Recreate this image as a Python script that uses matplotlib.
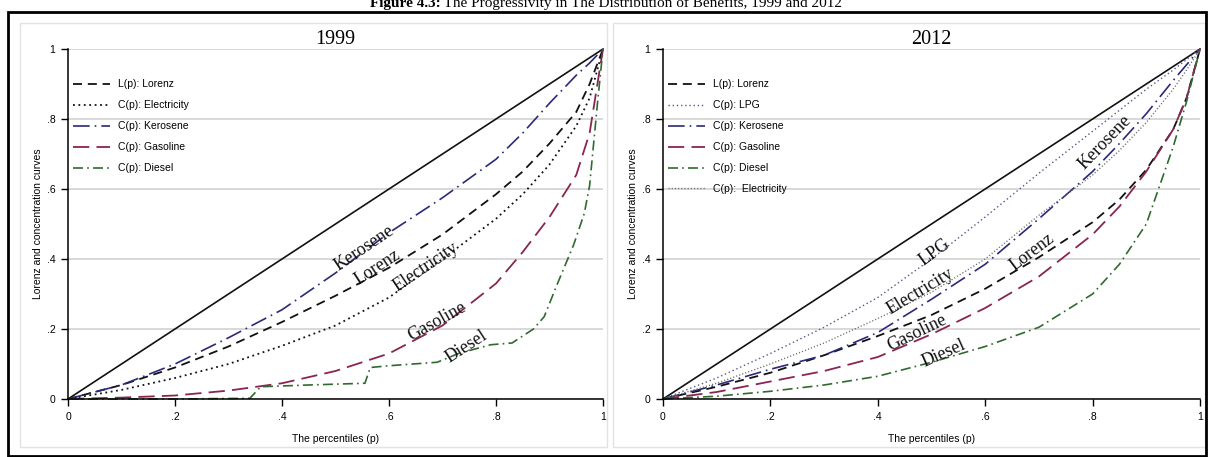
import matplotlib
matplotlib.use("Agg")
import matplotlib.pyplot as plt
from matplotlib.patches import Rectangle

# ---------------- data ----------------
p_grid = [0, .1, .2, .3, .4, .5, .6, .7, .8, .85, .9, .95, .975, 1]

lorenz_99 = [0, .04, .09, .15, .22, .295, .375, .47, .585, .65, .73, .82, .90, 1]
elec_99 = [0, .026, .06, .10, .152, .21, .29, .40, .515, .585, .67, .78, .86, 1]
kero_99 = [0, .04, .10, .175, .255, .36, .475, .575, .685, .76, .845, .925, .96, 1]
gaso_99 = [0, .004, .01, .024, .045, .08, .13, .21, .33, .42, .52, .64, .76, 1]
diesel_p_99 = [0, .2, .34, .36, .45, .555, .565, .6, .69, .73, .79, .83, .87, .89,
               .915, .945, .965, .975, .99, 1]
diesel_99 = [0, 0, .002, .035, .04, .045, .09, .095, .105, .13, .155, .16, .2, .235,
             .33, .44, .53, .61, .85, 1]

lorenz_12 = [0, .035, .075, .125, .18, .24, .315, .405, .505, .57, .655, .77, .86, 1]
lpg_12 = [0, .06, .13, .205, .29, .40, .52, .645, .765, .825, .885, .94, .97, 1]
kero_12 = [0, .04, .085, .125, .19, .285, .385, .515, .65, .73, .815, .91, .955, 1]
gaso_12 = [0, .02, .05, .08, .12, .185, .26, .35, .47, .55, .65, .77, .86, 1]
diesel_12 = [0, .008, .022, .04, .065, .105, .15, .205, .30, .385, .50, .72, .85, 1]
elec_12 = [0, .045, .10, .16, .23, .305, .40, .525, .64, .71, .79, .885, .94, 1]

ticks = [0, .2, .4, .6, .8, 1]
tick_labels = ["0", ".2", ".4", ".6", ".8", "1"]

legend_99 = ["L(p): Lorenz", "C(p): Electricity", "C(p): Kerosene",
             "C(p): Gasoline", "C(p): Diesel"]
legend_12 = ["L(p): Lorenz", "C(p): LPG", "C(p): Kerosene",
             "C(p): Gasoline", "C(p): Diesel", "C(p):  Electricity"]

# ---------------- styles ----------------
W, H = 1212, 457
SANS = ["Liberation Sans", "DejaVu Sans"]
SERIF = ["Liberation Serif", "DejaVu Serif"]
C_BLACK = "#111111"
C_NAVY = "#2a2a78"
C_GASO = "#8a2452"
C_DIESEL = "#2f6a2f"
C_LPG = "#55558f"
C_ELEC12 = "#6a6a6a"

st_lorenz = dict(color=C_BLACK, lw=1.3, dashes=(5, 3.2))
st_elec99 = dict(color=C_BLACK, lw=1.3, dashes=(1, 2))
st_kero = dict(color=C_NAVY, lw=1.2, dashes=(10, 3, 1, 3))
st_gaso = dict(color=C_GASO, lw=1.3, dashes=(9, 4))
st_diesel = dict(color=C_DIESEL, lw=1.2, dashes=(6, 2.5, 1, 2.5))
st_lpg = dict(color=C_LPG, lw=1.0, dashes=(1, 2))
st_elec12 = dict(color=C_ELEC12, lw=1.0, dashes=(0.8, 1.5))

fig = plt.figure(figsize=(W / 100, H / 100), dpi=100)
fig.patch.set_facecolor("white")


def px_rect(x0, y0, x1, y1, **kw):
    r = Rectangle((x0 / W, 1 - y1 / H), (x1 - x0) / W, (y1 - y0) / H,
                  transform=fig.transFigure, fill=False, **kw)
    fig.add_artist(r)


# panel frames and outer border
px_rect(20, 23, 607, 447, lw=1.0, edgecolor="#e2e2e2")
px_rect(613, 23, 1205, 447, lw=1.0, edgecolor="#e2e2e2")
px_rect(8, 12, 1206, 456, lw=2.0, edgecolor="black")

# figure caption (cut by the top edge), centred as a whole
renderer = fig.canvas.get_renderer()
t_bold = fig.text(0, 1 - 7 / H, "Figure 4.3:", ha="left", va="baseline",
                  fontsize=11, fontweight="bold", family=SERIF)
t_rest = fig.text(0, 1 - 7 / H,
                  " The Progressivity in The Distribution of Benefits, 1999 and 2012",
                  ha="left", va="baseline", fontsize=11, family=SERIF)
wb = t_bold.get_window_extent(renderer).width
wr = t_rest.get_window_extent(renderer).width
x_start = 606 - (wb + wr) / 2
t_bold.set_x(x_start / W)
t_rest.set_x((x_start + wb) / W)


def setup_axes(ax, title):
    ax.set_xlim(0, 1)
    ax.set_ylim(0, 1)
    for s in ["top", "right"]:
        ax.spines[s].set_visible(False)
    for s in ["left", "bottom"]:
        ax.spines[s].set_linewidth(1.1)
    ax.set_xticks(ticks)
    ax.set_xticklabels(tick_labels)
    ax.set_yticks(ticks)
    ax.set_yticklabels(tick_labels)
    ax.tick_params(direction="out", length=5, width=1.0, labelsize=7.5, pad=4)
    for lab in ax.get_xticklabels() + ax.get_yticklabels():
        lab.set_family(SANS)
    ax.yaxis.grid(True, color="#d6d6d6", lw=1.3)
    ax.set_axisbelow(True)
    ax.set_xlabel("The percentiles (p)", fontsize=7.5, family=SANS, labelpad=9)
    ax.set_ylabel("Lorenz and concentration curves", fontsize=7.5, family=SANS,
                  labelpad=3)
    ax.set_title(title, fontsize=14.5, family=SERIF, pad=3)
    ax.plot([0, 1], [0, 1], color=C_BLACK, lw=1.2, clip_on=False)


def add_legend(ax, handles, labels):
    ax.legend(handles, labels, loc="upper left", bbox_to_anchor=(0.0, 0.928),
              frameon=False, prop=dict(family=SANS, size=7.5),
              handlelength=3.55, labelspacing=1.05, handletextpad=0.75,
              borderaxespad=0.1)


def label(ax, text, x, y, rot):
    ax.text(x, y, text, rotation=rot, rotation_mode="anchor", ha="center",
            va="center", fontsize=13, family=SERIF, color="#111111")


ax1 = fig.add_axes([68 / W, 1 - 399 / H, 535 / W, 350 / H])
setup_axes(ax1, "1999")
h = []
h.append(ax1.plot(p_grid, lorenz_99, clip_on=False, **st_lorenz)[0])
h.append(ax1.plot(p_grid, elec_99, clip_on=False, **st_elec99)[0])
h.append(ax1.plot(p_grid, kero_99, clip_on=False, **st_kero)[0])
h.append(ax1.plot(p_grid, gaso_99, clip_on=False, **st_gaso)[0])
h.append(ax1.plot(diesel_p_99, diesel_99, clip_on=False, **st_diesel)[0])
add_legend(ax1, h, legend_99)
label(ax1, "Kerosene", 0.553, 0.431, 34)
label(ax1, "Lorenz", 0.578, 0.376, 33)
label(ax1, "Electricity", 0.669, 0.376, 34)
label(ax1, "Gasoline", 0.69, 0.22, 29)
label(ax1, "Diesel", 0.744, 0.149, 33)

ax2 = fig.add_axes([663 / W, 1 - 399 / H, 537 / W, 350 / H])
setup_axes(ax2, "2012")
h = []
h.append(ax2.plot(p_grid, lorenz_12, clip_on=False, **st_lorenz)[0])
h.append(ax2.plot(p_grid, lpg_12, clip_on=False, **st_lpg)[0])
h.append(ax2.plot(p_grid, kero_12, clip_on=False, **st_kero)[0])
h.append(ax2.plot(p_grid, gaso_12, clip_on=False, **st_gaso)[0])
h.append(ax2.plot(p_grid, diesel_12, clip_on=False, **st_diesel)[0])
h.append(ax2.plot(p_grid, elec_12, clip_on=False, **st_elec12)[0])
add_legend(ax2, h, legend_12)
label(ax2, "LPG", 0.505, 0.42, 36)
label(ax2, "Electricity", 0.479, 0.306, 31)
label(ax2, "Lorenz", 0.687, 0.42, 37)
label(ax2, "Gasoline", 0.473, 0.188, 26)
label(ax2, "Diesel", 0.523, 0.131, 24)
label(ax2, "Kerosene", 0.823, 0.734, 46)

fig.savefig("out.png", dpi=100, facecolor="white")
